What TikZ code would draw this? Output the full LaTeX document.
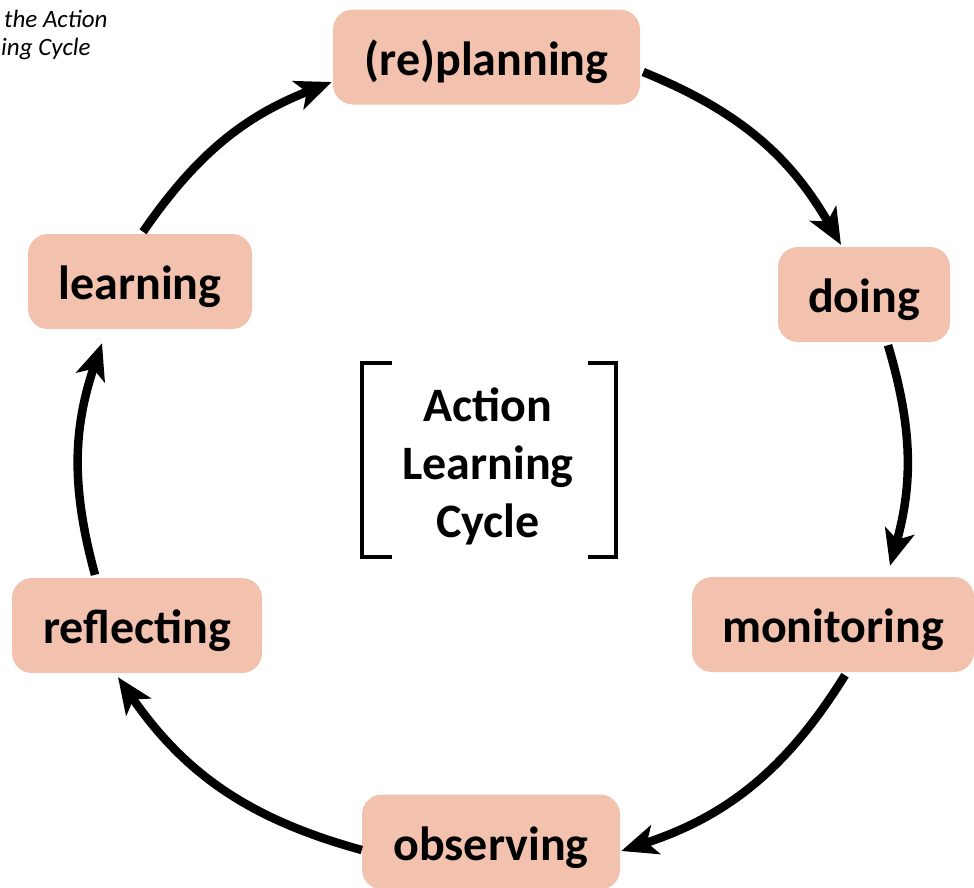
\documentclass[tikz,border=0pt]{standalone}
\usepackage{fontspec}
\setmainfont{Carlito}
\usepackage{xcolor}
\usetikzlibrary{arrows.meta, positioning}
\definecolor{boxfill}{RGB}{242,194,174}

\tikzset{
  stage/.style={fill=boxfill, rounded corners=20pt, minimum height=95pt, inner sep=0pt,
    text height=39pt, text depth=3pt, font=\fontsize{48}{58}\selectfont\bfseries},
  cyclearrow/.style={line width=8.5pt, -{Stealth[length=36pt,width=30pt,inset=9pt]}, bend left=#1},
  caption/.style={anchor=base west, font=\fontsize{25}{28}\selectfont\itshape},
}

\begin{document}
\begin{tikzpicture}[x=1pt,y=-1pt]
        \useasboundingbox (0,0) rectangle (974,887);

        % 左上角的标题残片
        \node[caption, inner sep=0pt] (capa) at (4,27) {the Action};
        \node[caption, inner sep=0pt] (capb) at (1,55) {ing Cycle};

        % 六个阶段
        \node[stage, minimum width=307pt] (plan) at (486.5,57) {(re)planning};
        \node[stage, minimum width=172pt] (doing) at (864,294.5) {doing};
        \node[stage, minimum width=282pt] (monitor) at (833,624.5) {monitoring};
        \node[stage, minimum width=258pt] (observe) at (491,842) {observing};
        \node[stage, minimum width=250pt] (reflect) at (137,625.5) {reflecting};
        \node[stage, minimum width=224pt] (learn) at (140,281.5) {learning};

        % 中间的标题和方括号
        \node[align=center, font=\fontsize{48}{58}\selectfont\bfseries] (title) at (488,466) {Action\\Learning\\Cycle};
        \draw[line width=4pt] (392,363) -- (362,363) -- (362,557) -- (392,557);
        \draw[line width=4pt] (588,363) -- (616,363) -- (616,557) -- (588,557);

        % 循环箭头
        \draw[cyclearrow=19] ([xshift=3pt,yshift=-15pt]plan.east) to ([xshift=-23pt,yshift=2pt]doing.north);
        \draw[cyclearrow=16] ([xshift=24pt,yshift=-3pt]doing.south) to ([xshift=57pt,yshift=11pt]monitor.north);
        \draw[cyclearrow=20] ([xshift=12pt,yshift=-3pt]monitor.south) to ([xshift=1pt,yshift=-9pt]observe.east);
        \draw[cyclearrow=20] ([yshift=-8pt]observe.west) to ([xshift=-19pt,yshift=-4pt]reflect.south);
        \draw[cyclearrow=17] ([xshift=-42pt,yshift=3pt]reflect.north) to ([xshift=-38pt,yshift=-14pt]learn.south);
        \draw[cyclearrow=17] ([xshift=3pt,yshift=2pt]learn.north) to ([xshift=-1pt,yshift=-25pt]plan.west);
\end{tikzpicture}
\end{document}
